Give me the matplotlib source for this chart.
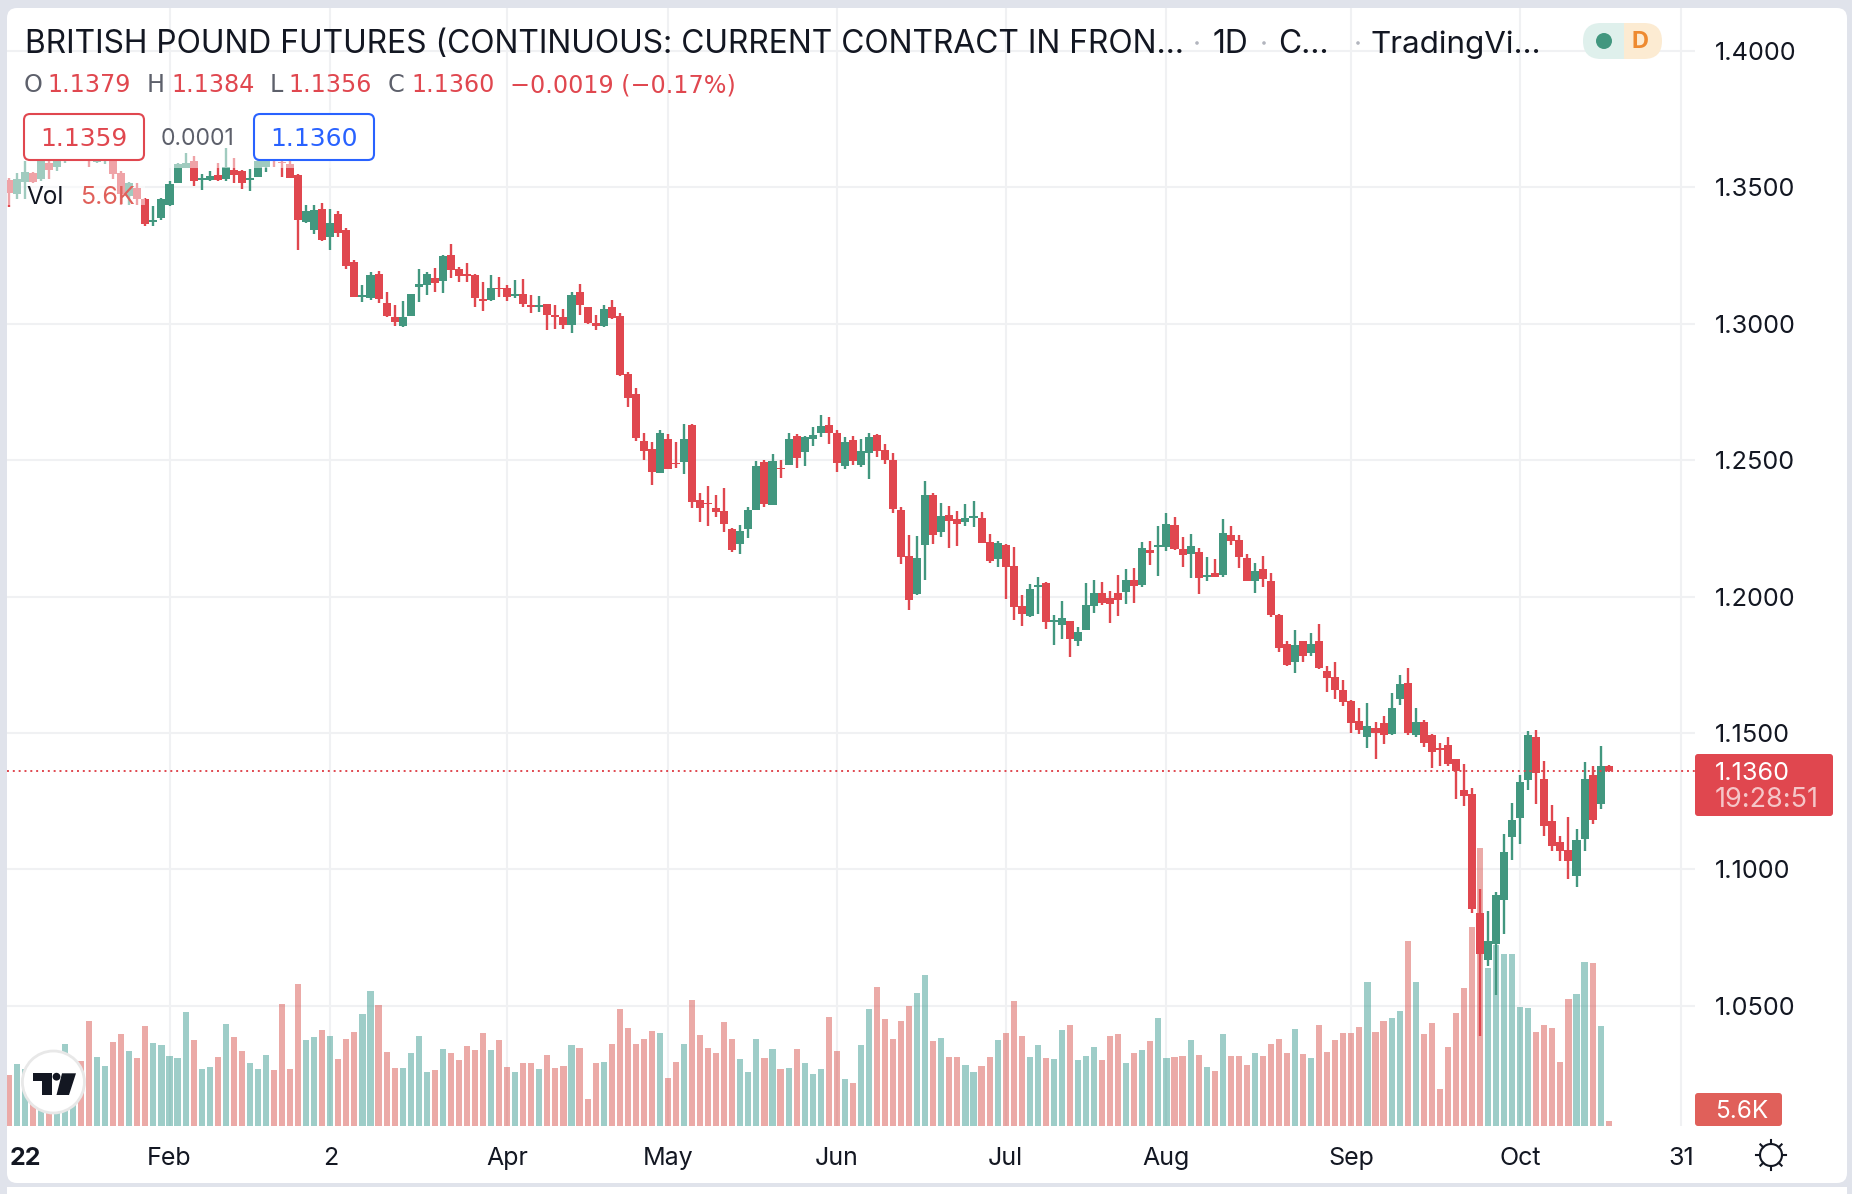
import matplotlib
matplotlib.use('Agg')
import matplotlib.pyplot as plt
from matplotlib.patches import Rectangle, FancyBboxPatch, Circle, Polygon
import numpy as np

plt.rcParams['font.family'] = ['Inter', 'DejaVu Sans']

opens = [1.3526,1.3474,1.3521,1.3552,1.3530,1.3591,1.3573,1.3600,1.3605,1.3620,
1.3615,1.3592,1.3600,1.3595,1.3552,1.3468,1.3499,1.3459,1.3372,1.3388,
1.3437,1.3517,1.3572,1.3596,1.3527,1.3527,1.3546,1.3530,1.3563,1.3559,
1.3526,1.3538,1.3574,1.3610,1.3594,1.3584,1.3547,1.3372,1.3345,1.3421,
1.3320,1.3404,1.3345,1.3226,1.3099,1.3093,1.3183,1.3078,1.3026,1.2992,
1.3029,1.3136,1.3141,1.3167,1.3158,1.3253,1.3200,1.3181,1.3178,1.3092,
1.3087,1.3133,1.3133,1.3103,1.3108,1.3068,1.3062,1.3072,1.3031,1.3025,
1.2996,1.3116,1.3061,1.3004,1.2992,1.3060,1.3027,1.2815,1.2742,1.2570,
1.2540,1.2454,1.2576,1.2490,1.2494,1.2628,1.2354,1.2344,1.2324,1.2313,
1.2247,1.2194,1.2247,1.2317,1.2493,1.2335,1.2473,1.2482,1.2588,1.2529,
1.2577,1.2599,1.2628,1.2599,1.2478,1.2573,1.2482,1.2526,1.2592,1.2537,
1.2500,1.2317,1.2149,1.2010,1.2189,1.2372,1.2236,1.2299,1.2284,1.2273,
1.2289,1.2288,1.2200,1.2138,1.2189,1.2112,1.1966,1.1929,1.2035,1.2050,
1.1906,1.1896,1.1911,1.1838,1.1878,1.1966,1.2013,1.1995,1.2013,1.2017,
1.2061,1.2043,1.2171,1.2182,1.2182,1.2262,1.2174,1.2156,1.2163,1.2073,
1.2086,1.2079,1.2226,1.2207,1.2141,1.2057,1.2101,1.2057,1.1931,1.1828,
1.1762,1.1836,1.1795,1.1836,1.1729,1.1704,1.1656,1.1616,1.1543,1.1484,
1.1517,1.1535,1.1495,1.1623,1.1682,1.1491,1.1539,1.1491,1.1444,1.1455,
1.1404,1.1290,1.1276,1.0840,1.0668,1.0727,1.0888,1.1118,1.1188,1.1327,
1.1484,1.1330,1.1177,1.1100,1.1071,1.0975,1.1111,1.1345,1.1239,1.1379]

highs = [1.3536,1.3554,1.3595,1.3556,1.3615,1.3612,1.3625,1.3630,1.3635,1.3630,
1.3625,1.3622,1.3630,1.3615,1.3560,1.3520,1.3517,1.3462,1.3431,1.3460,
1.3523,1.3590,1.3627,1.3615,1.3548,1.3560,1.3591,1.3644,1.3609,1.3564,
1.3566,1.3600,1.3612,1.3620,1.3605,1.3600,1.3548,1.3437,1.3437,1.3441,
1.3419,1.3415,1.3350,1.3234,1.3142,1.3191,1.3194,1.3115,1.3068,1.3083,
1.3111,1.3200,1.3191,1.3204,1.3253,1.3292,1.3210,1.3222,1.3181,1.3154,
1.3179,1.3170,1.3142,1.3160,1.3163,1.3105,1.3101,1.3073,1.3068,1.3056,
1.3117,1.3146,1.3062,1.3034,1.3068,1.3087,1.3040,1.2823,1.2766,1.2598,
1.2566,1.2612,1.2595,1.2566,1.2634,1.2633,1.2378,1.2405,1.2372,1.2398,
1.2251,1.2262,1.2328,1.2496,1.2500,1.2522,1.2500,1.2599,1.2595,1.2588,
1.2621,1.2665,1.2657,1.2612,1.2584,1.2588,1.2577,1.2599,1.2595,1.2559,
1.2526,1.2328,1.2226,1.2222,1.2423,1.2379,1.2343,1.2332,1.2313,1.2339,
1.2350,1.2310,1.2229,1.2204,1.2193,1.2182,1.2006,1.2046,1.2072,1.2053,
1.1933,1.1984,1.1912,1.1889,1.2050,1.2061,1.2053,1.2021,1.2079,1.2101,
1.2105,1.2200,1.2204,1.2258,1.2306,1.2291,1.2218,1.2229,1.2178,1.2145,
1.2138,1.2284,1.2259,1.2226,1.2156,1.2123,1.2149,1.2086,1.1937,1.1839,
1.1879,1.1839,1.1865,1.1901,1.1744,1.1762,1.1693,1.1620,1.1590,1.1609,
1.1539,1.1561,1.1645,1.1711,1.1737,1.1590,1.1546,1.1495,1.1462,1.1484,
1.1405,1.1385,1.1297,1.0928,1.0847,1.0917,1.1129,1.1243,1.1345,1.1506,
1.1510,1.1396,1.1235,1.1122,1.1191,1.1147,1.1393,1.1378,1.1451,1.1384]

lows = [1.3429,1.3456,1.3456,1.3517,1.3525,1.3530,1.3560,1.3590,1.3598,1.3600,
1.3573,1.3590,1.3585,1.3530,1.3437,1.3435,1.3437,1.3357,1.3360,1.3382,
1.3431,1.3515,1.3570,1.3505,1.3490,1.3523,1.3525,1.3523,1.3515,1.3493,
1.3486,1.3537,1.3556,1.3575,1.3538,1.3535,1.3271,1.3370,1.3330,1.3302,
1.3271,1.3320,1.3200,1.3097,1.3081,1.3087,1.3077,1.3025,1.2991,1.2990,
1.3028,1.3081,1.3105,1.3117,1.3114,1.3167,1.3154,1.3154,1.3062,1.3047,
1.3084,1.3099,1.3083,1.3093,1.3062,1.3040,1.3044,1.2976,1.2982,1.2982,
1.2966,1.3031,1.3001,1.2976,1.2990,1.3019,1.2810,1.2695,1.2570,1.2500,
1.2410,1.2453,1.2466,1.2470,1.2449,1.2324,1.2274,1.2260,1.2293,1.2238,
1.2165,1.2157,1.2216,1.2316,1.2329,1.2334,1.2435,1.2481,1.2472,1.2478,
1.2551,1.2585,1.2559,1.2456,1.2467,1.2482,1.2474,1.2430,1.2511,1.2485,
1.2306,1.2119,1.1951,1.2006,1.2061,1.2193,1.2218,1.2178,1.2185,1.2258,
1.2255,1.2195,1.2123,1.2108,1.1991,1.1914,1.1892,1.1925,1.1936,1.1881,
1.1823,1.1845,1.1779,1.1819,1.1877,1.1940,1.1969,1.1903,1.1929,1.1973,
1.1977,1.2035,1.2116,1.2075,1.2167,1.2171,1.2108,1.2068,1.2010,1.2057,
1.2071,1.2072,1.2189,1.2105,1.2056,1.2013,1.2035,1.1925,1.1796,1.1745,
1.1720,1.1762,1.1784,1.1733,1.1649,1.1623,1.1598,1.1499,1.1495,1.1444,
1.1404,1.1459,1.1494,1.1601,1.1491,1.1484,1.1448,1.1371,1.1378,1.1378,
1.1257,1.1232,1.0840,1.0390,1.0646,1.0540,1.0763,1.1034,1.1093,1.1290,
1.1239,1.1122,1.1067,1.1030,1.0964,1.0935,1.1067,1.1166,1.1221,1.1356]

closes = [1.3480,1.3532,1.3558,1.3520,1.3603,1.3564,1.3605,1.3615,1.3618,1.3610,
1.3595,1.3612,1.3615,1.3548,1.3474,1.3515,1.3459,1.3367,1.3382,1.3456,
1.3514,1.3584,1.3590,1.3523,1.3536,1.3542,1.3528,1.3573,1.3546,1.3515,
1.3533,1.3596,1.3600,1.3600,1.3591,1.3535,1.3379,1.3413,1.3416,1.3306,
1.3370,1.3333,1.3213,1.3099,1.3106,1.3179,1.3090,1.3029,1.3006,1.3024,
1.3108,1.3145,1.3183,1.3151,1.3249,1.3199,1.3177,1.3176,1.3093,1.3084,
1.3130,1.3129,1.3099,1.3110,1.3072,1.3063,1.3068,1.3031,1.3025,1.2994,
1.3105,1.3068,1.3003,1.2993,1.3054,1.3022,1.2814,1.2728,1.2582,1.2534,
1.2457,1.2598,1.2467,1.2485,1.2576,1.2348,1.2324,1.2339,1.2311,1.2267,
1.2171,1.2240,1.2317,1.2478,1.2339,1.2496,1.2468,1.2577,1.2509,1.2584,
1.2592,1.2624,1.2599,1.2489,1.2566,1.2496,1.2533,1.2584,1.2533,1.2500,
1.2321,1.2145,1.1988,1.2141,1.2372,1.2226,1.2295,1.2277,1.2266,1.2288,
1.2295,1.2196,1.2130,1.2196,1.2108,1.1962,1.1936,1.2028,1.2042,1.1907,
1.1914,1.1922,1.1845,1.1870,1.1969,1.2013,1.1977,1.1973,1.1988,1.2061,
1.2039,1.2178,1.2160,1.2188,1.2266,1.2174,1.2152,1.2185,1.2068,1.2079,
1.2072,1.2233,1.2204,1.2145,1.2057,1.2094,1.2064,1.1932,1.1811,1.1751,
1.1821,1.1784,1.1828,1.1740,1.1700,1.1656,1.1612,1.1535,1.1510,1.1524,
1.1499,1.1491,1.1590,1.1678,1.1499,1.1539,1.1462,1.1429,1.1437,1.1385,
1.1360,1.1268,1.0855,1.0690,1.0738,1.0906,1.1063,1.1180,1.1319,1.1491,
1.1352,1.1158,1.1085,1.1067,1.1030,1.1107,1.1330,1.1180,1.1378,1.1360]

# thousands of contracts
volumes = [56.7,69,63.4,58.6,73.5,58.6,66,91.4,66,72.4,
118,76.8,66.8,93.6,102.6,83.6,75.7,111.5,92.5,90.3,
78,75.7,127.2,95.9,63.4,65.6,76.8,113.8,99.2,83.6,
70.1,63.4,79.1,62.3,136.1,63.4,158.5,95.9,99.2,107,
100.3,74.6,97,104.8,125,150.7,135,82.4,64.5,64.5,
81.3,100.3,60,62.3,85.8,81.3,73.5,89.1,84.7,103.7,
84.7,95.9,65.6,60,70.1,70.1,63.4,79.1,64.5,66.8,
90.3,86.9,29.8,70.1,71.2,91.4,130.6,109.3,91.4,97,
105.9,103.7,53.3,71.2,91.4,140.6,101.5,86.9,81.3,116,
97,74.6,60,97,75.7,85.8,63.4,64.5,85.8,70.1,
57.8,63.4,121.6,83.6,52.2,47.7,90.3,130.6,155.2,119.4,
97,117.1,133.9,148.5,168.6,94.7,98.1,76.8,76.8,67.9,
60,66.8,76.8,95.9,103.7,139.5,100.3,76.8,90.3,75.7,
74.6,107,112.6,73.5,78,88,73.5,100.3,102.6,70.1,
81.3,84.7,94.7,120.5,75.7,76.8,78,95.9,79.1,65.6,
61.2,102.6,78,78,68.3,81.7,78.3,91.8,97.4,81.7,
108.5,80.6,76.1,113,82.8,96.2,104.1,104.1,110.8,161.1,
105.2,117.5,120.9,128.7,207,161.1,102.9,115.3,41.4,88.4,
126.4,154.4,222.7,311,176.8,202.5,192.5,192.5,133.2,132,
105.2,113,109.7,71.6,142.1,147.7,183.5,182.4,111.9,5.6]

month_idx = [20, 40, 62, 82, 103, 124, 144, 167, 188, 208]
month_labels = ['Feb', '2', 'Apr', 'May', 'Jun', 'Jul', 'Aug', 'Sep', 'Oct', '31']
price_ticks = [1.05, 1.10, 1.15, 1.20, 1.25, 1.30, 1.35, 1.40]
last_price = 1.1360

RED = '#E0474F'
GREEN = '#42977F'
TEXT = '#131722'
GREY = '#5D606B'
GRID = '#F0F1F3'
DIGITS = ['DejaVu Sans']  # tracked-out numerals in the original, this is the closest width
W, H = 1852, 1194


def box(x0, y0, x1, y1):
    # pixels from the top left -> figure fractions
    return [x0 / W, 1 - y1 / H, (x1 - x0) / W, (y1 - y0) / H]


fig = plt.figure(figsize=(W / 100, H / 100), dpi=100, facecolor='#E0E3EB')

# panel behind everything
bg = fig.add_axes([0, 0, 1, 1], zorder=0)
bg.set_xlim(0, W)
bg.set_ylim(H, 0)
bg.axis('off')
bg.add_patch(FancyBboxPatch((7, 8), 1840, 1175, boxstyle='round,pad=0,rounding_size=10', fc='white', ec='none'))
bg.add_patch(Rectangle((7, 1187), 1840, 7, fc='white', ec='none'))

xs = np.arange(len(opens))
opens_a, highs_a, lows_a, closes_a = map(np.array, (opens, highs, lows, closes))
down = closes_a < opens_a
cols = np.where(down, RED, GREEN)

xlim = ((7 - 8.7) / 8.04, (1695 - 8.7) / 8.04)
ylim = (1.40 - (1126 - 51) / 2728, 1.40 + 43 / 2728)
pos = box(7, 8, 1695, 1126)

# grid goes in its own axes so it stays under the volume bars
gax = fig.add_axes(pos, zorder=0.5)
gax.patch.set_alpha(0)
gax.set_xlim(xlim)
gax.set_ylim(ylim)
gax.set_xticks(month_idx)
gax.set_yticks(price_ticks)
gax.tick_params(length=0, labelbottom=False, labelleft=False)
gax.grid(True, color=GRID, lw=1.5)
for s in gax.spines.values():
    s.set_visible(False)

vax = fig.add_axes(pos, zorder=1)
vax.patch.set_alpha(0)
vax.set_xlim(xlim)
vax.set_ylim(0, 1118 * 1.12)
vax.axis('off')
vax.bar(xs, volumes, width=0.76, color=np.where(down, '#D95C57', '#45A096'), alpha=0.52, lw=0)

ax = fig.add_axes(pos, zorder=2)
ax.patch.set_alpha(0)
ax.set_xlim(xlim)
ax.set_ylim(ylim)
for s in ax.spines.values():
    s.set_visible(False)

ax.vlines(xs, lows_a, highs_a, colors=cols, lw=1.7, zorder=3)
ax.bar(xs, np.abs(closes_a - opens_a), bottom=np.minimum(opens_a, closes_a), width=1.0, color=cols, lw=0, zorder=4)
ax.axhline(last_price, color=RED, lw=1.4, ls=(0, (1, 2)), zorder=5)

ax.yaxis.tick_right()
ax.set_yticks(price_ticks, ['%.4f' % p for p in price_ticks])
ax.set_xticks(month_idx, month_labels)
ax.set_xticks([2.1], ['22'], minor=True)
ax.tick_params(axis='y', length=0, pad=14, labelsize=18.2, labelcolor=TEXT)
ax.tick_params(axis='x', which='both', length=0, pad=15, labelsize=18, labelcolor=TEXT)
for t in ax.get_xticklabels(minor=True):
    t.set_fontweight('bold')

# legend, badges and logo on top, placed in pixels
ui = fig.add_axes([0, 0, 1, 1], zorder=3)
ui.set_xlim(0, W)
ui.set_ylim(H, 0)
ui.axis('off')
ui.patch.set_alpha(0)

# the legend rows wash out the candles below them
ui.add_patch(Rectangle((7, 160), 138, 45, fc='white', ec='none', alpha=0.5))
ui.add_patch(Rectangle((145, 110), 230, 58, fc='white', ec='none', alpha=0.5))

ui.text(25, 44.5, 'BRITISH POUND FUTURES (CONTINUOUS: CURRENT CONTRACT IN FRON…', fontsize=22.9, color=TEXT, va='center')
ui.text(1213, 44.5, '1D', fontsize=22.9, color=TEXT, va='center')
ui.text(1278, 44.5, 'C…', fontsize=22.9, color=TEXT, va='center')
ui.text(1371, 44.5, 'TradingVi…', fontsize=22.6, color=TEXT, va='center')
for dx in [1197, 1264, 1358]:
    ui.add_patch(Circle((dx, 43), 1.8, fc='#B2B5BE', ec='none'))

# status pill
ui.add_patch(FancyBboxPatch((1583, 23), 60, 36, boxstyle='round,pad=0,rounding_size=18', fc='#DFF0EC', ec='none'))
ui.add_patch(FancyBboxPatch((1604, 23), 58, 36, boxstyle='round,pad=0,rounding_size=18', fc='#FCEBD2', ec='none'))
ui.add_patch(Rectangle((1600, 23), 24, 36, fc='#DFF0EC', ec='none'))
ui.add_patch(Circle((1604, 41), 8, fc=GREEN, ec='none'))
ui.text(1640, 42, 'D', fontsize=17, color='#EE8A30', ha='center', va='center', fontweight='bold')

# OHLC row
for x, s, c in [(24, 'O', GREY), (47, '1.1379', RED), (147, 'H', GREY), (171, '1.1384', RED),
                (270, 'L', GREY), (288, '1.1356', RED), (388, 'C', GREY), (411, '1.1360', RED),
                (510, '−0.0019 (−0.17%)', RED)]:
    ui.text(x, 85, s, fontsize=17.2, color=c, va='center', family=DIGITS)

# buy/sell boxes
ui.add_patch(FancyBboxPatch((24, 114), 120, 46, boxstyle='round,pad=0,rounding_size=6', fc='white', ec=RED, lw=1.5))
ui.text(84, 139, '1.1359', fontsize=18, color=RED, ha='center', va='center', family=DIGITS)
ui.text(198, 139, '0.0001', fontsize=16.5, color=GREY, ha='center', va='center')
ui.add_patch(FancyBboxPatch((254, 114), 120, 46, boxstyle='round,pad=0,rounding_size=6', fc='white', ec='#2962FF', lw=1.5))
ui.text(314, 139, '1.1360', fontsize=18, color='#2962FF', ha='center', va='center', family=DIGITS)

ui.text(26, 197, 'Vol', fontsize=17.5, color=TEXT, va='center')
ui.text(80, 197, '5.6K', fontsize=18, color='#E0605A', va='center')

# price and volume badges
ui.add_patch(FancyBboxPatch((1695, 754), 138, 62, boxstyle='round,pad=0,rounding_size=3', fc=RED, ec='none'))
ui.text(1715, 773, '1.1360', fontsize=18.2, color='white', va='center')
ui.text(1715, 800, '19:28:51', fontsize=19.5, color='#F5C6C8', va='center')
ui.add_patch(FancyBboxPatch((1695, 1093), 87, 33, boxstyle='round,pad=0,rounding_size=3', fc='#E0605A', ec='none'))
ui.text(1715, 1112, '5.6K', fontsize=17.5, color='white', va='center')

# tradingview logo
ui.add_patch(Circle((53.4, 1082), 31, fc='white', ec='#E8E8E8', lw=2))
ui.add_patch(Polygon([(32.8, 1073.3), (51.8, 1073.3), (51.8, 1095), (42.3, 1095), (42.3, 1080.7), (32.8, 1080.7)], fc=TEXT, ec='none'))
ui.add_patch(Circle((56.5, 1076.7), 3.9, fc=TEXT, ec='none'))
ui.add_patch(Polygon([(62, 1073.3), (76, 1073.3), (69, 1095), (56.5, 1095)], fc=TEXT, ec='none'))

# settings cog
ui.add_patch(Circle((1771, 1155), 11, fc='white', ec=TEXT, lw=1.5))
for a in np.arange(8) * np.pi / 4:
    ui.plot([1771 + 11 * np.cos(a), 1771 + 15 * np.cos(a)], [1155 + 11 * np.sin(a), 1155 + 15 * np.sin(a)], color=TEXT, lw=1.5)

fig.savefig('out.png', dpi=100, facecolor=fig.get_facecolor())
